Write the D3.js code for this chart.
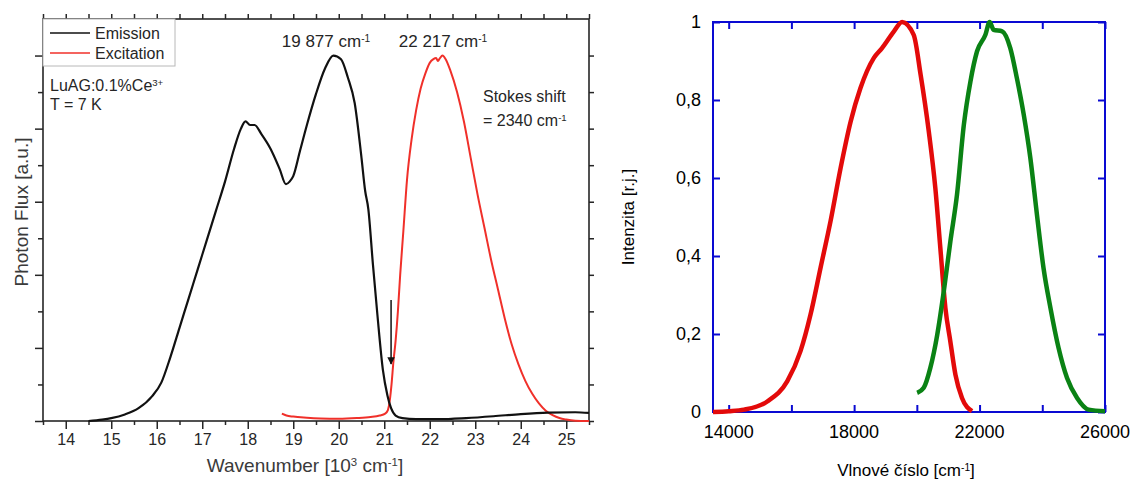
<!DOCTYPE html>
<html>
<head>
<meta charset="utf-8">
<script src="https://cdn.jsdelivr.net/npm/d3@7"></script>
<style>
    body { margin: 0; background: #ffffff; }
    svg { display: block; }
    text { font-family: 'Liberation Sans', Arial, sans-serif; }
</style>
</head>
<body>
<div id="chart"></div>
<script>
'use strict';

// left panel: LuAG:Ce emission / excitation (wavenumber in 10^3 cm-1)
var emissionX = [14.5, 14.8, 15.0, 15.3, 15.6, 15.9, 16.1, 16.3, 16.5, 16.7, 16.9, 17.1, 17.3, 17.5, 17.7,
    17.85, 17.95, 18.05, 18.15, 18.3, 18.5, 18.7, 18.84, 18.92, 19.0, 19.15, 19.3, 19.5, 19.7, 19.88,
    20.05, 20.2, 20.35, 20.5, 20.58, 20.65, 20.75, 20.85, 20.97, 21.07, 21.15, 21.25, 21.4, 21.7,
    22.2, 22.8, 23.4, 24.0, 24.6, 25.2, 25.5];
var emissionY = [0.0, 0.004, 0.008, 0.018, 0.035, 0.068, 0.105, 0.175, 0.255, 0.335, 0.415, 0.495, 0.575, 0.655, 0.745,
    0.80, 0.82, 0.81, 0.81, 0.785, 0.745, 0.69, 0.648, 0.655, 0.67, 0.74, 0.81, 0.895, 0.965, 1.0,
    0.99, 0.94, 0.87, 0.72, 0.63, 0.58, 0.43, 0.29, 0.14, 0.07, 0.035, 0.015, 0.008, 0.005,
    0.005, 0.008, 0.013, 0.019, 0.023, 0.024, 0.022];

var excitationX = [18.75, 18.85, 19.0, 19.3, 19.6, 20.0, 20.4, 20.7, 20.9, 21.02, 21.08, 21.12, 21.16, 21.2,
    21.25, 21.3, 21.35, 21.42, 21.5, 21.6, 21.7, 21.8, 21.9, 22.0, 22.08, 22.14, 22.18, 22.22, 22.28,
    22.35, 22.45, 22.6, 22.75, 22.9, 23.05, 23.2, 23.35, 23.5, 23.65, 23.8, 23.95, 24.1, 24.25, 24.4,
    24.55, 24.7, 24.85, 25.0, 25.2, 25.5];
var excitationY = [0.02, 0.015, 0.012, 0.009, 0.007, 0.006, 0.008, 0.011, 0.015, 0.02, 0.03, 0.055, 0.1, 0.16,
    0.22, 0.3, 0.4, 0.52, 0.66, 0.77, 0.85, 0.91, 0.95, 0.98, 0.99, 0.993, 0.985, 0.992, 1.0,
    0.99, 0.96, 0.9, 0.82, 0.72, 0.62, 0.53, 0.44, 0.36, 0.28, 0.21, 0.155, 0.11, 0.075, 0.048,
    0.028, 0.016, 0.008, 0.004, 0.001, 0.0];

var leftTickLabels = ['14', '15', '16', '17', '18', '19', '20', '21', '22', '23', '24', '25'];

// right panel: normalised spectra (wavenumber in cm-1)
var redX = [13500, 14000, 14490, 15230, 15870, 16290, 16610, 16930, 17250, 17570, 17890, 18200, 18630,
    18890, 19270, 19530, 19900, 20120, 20380, 20590, 20750, 20910, 21070, 21230, 21440, 21760];
var redY = [0.0, 0.002, 0.006, 0.027, 0.079, 0.156, 0.25, 0.37, 0.49, 0.626, 0.745, 0.83, 0.908,
    0.933, 0.976, 1.0, 0.967, 0.865, 0.72, 0.574, 0.42, 0.267, 0.18, 0.096, 0.036, 0.002];

var greenX = [20010, 20220, 20430, 20650, 20860, 21070, 21280, 21500, 21710, 21920, 22190, 22320, 22450,
    22720, 22980, 23190, 23410, 23620, 23830, 24040, 24260, 24520, 24790, 25110, 25480, 26000];
var greenY = [0.049, 0.062, 0.113, 0.198, 0.31, 0.438, 0.557, 0.737, 0.848, 0.925, 0.968, 1.0, 0.98,
    0.976, 0.933, 0.856, 0.762, 0.651, 0.506, 0.369, 0.267, 0.164, 0.087, 0.036, 0.006, 0.002];

var rightXTicks = [14000, 16000, 18000, 20000, 22000, 24000, 26000];
var rightXLabels = ['14000', '18000', '22000', '26000'];
var rightYTicks = [0, 0.2, 0.4, 0.6, 0.8, 1];
var rightYLabels = ['0', '0,2', '0,4', '0,6', '0,8', '1'];

var svg = d3.select('#chart').append('svg')
    .attr('width', 1134)
    .attr('height', 481);

function zip(xs, ys) {
    return xs.map(function(x, i) { return [x, ys[i]]; });
}

function addSup(textSel, base, sup) {
    textSel.append('tspan').text(base);
    textSel.append('tspan')
        .attr('baseline-shift', 'super')
        .attr('font-size', '0.6em')
        .text(sup);
}

function styleAxis(g, color, width) {
    g.selectAll('.domain').remove();
    g.selectAll('line').attr('stroke', color).attr('stroke-width', width);
}

/* ---------- left panel ---------- */
function drawLeft() {
    var ink = '#262626';
    var x = d3.scaleLinear().domain([13.5, 25.5]).range([43, 589]);
    var y = d3.scaleLinear().domain([0, 1.1]).range([421, 19]);
    var g = svg.append('g').attr('id', 'left-panel');

    var majorX = leftTickLabels.map(Number);
    var minorX = d3.range(13.5, 25.6, 1);
    var yMajor = d3.range(0, 11, 2).map(function(d) { return d / 10; });
    var yMinor = d3.range(1, 11, 2).map(function(d) { return d / 10; });
    var yAll = d3.range(0, 11).map(function(d) { return d / 10; });

    // bottom axis: long integer ticks with labels, short half ticks
    g.append('g')
        .attr('transform', 'translate(0,' + y(0) + ')')
        .call(d3.axisBottom(x).tickValues(majorX).tickSize(8).tickSizeOuter(0).tickPadding(5)
            .tickFormat(function(d, i) { return leftTickLabels[i]; }))
        .call(styleAxis, ink, 1.5)
        .selectAll('text')
            .attr('font-size', '16px')
            .attr('fill', ink);
    g.append('g')
        .attr('transform', 'translate(0,' + y(0) + ')')
        .call(d3.axisBottom(x).tickValues(minorX).tickSize(4).tickSizeOuter(0).tickFormat(''))
        .call(styleAxis, ink, 1.5);

    // top axis
    g.append('g')
        .attr('transform', 'translate(0,' + y(1.1) + ')')
        .call(d3.axisTop(x).tickValues(majorX.concat(minorX)).tickSize(5).tickSizeOuter(0).tickFormat(''))
        .call(styleAxis, ink, 1.5);

    // left axis: alternate long / short
    g.append('g')
        .attr('transform', 'translate(' + x(13.5) + ',0)')
        .call(d3.axisLeft(y).tickValues(yMajor).tickSize(8).tickSizeOuter(0).tickFormat(''))
        .call(styleAxis, ink, 1.5);
    g.append('g')
        .attr('transform', 'translate(' + x(13.5) + ',0)')
        .call(d3.axisLeft(y).tickValues(yMinor).tickSize(5).tickSizeOuter(0).tickFormat(''))
        .call(styleAxis, ink, 1.5);

    // right axis
    g.append('g')
        .attr('transform', 'translate(' + x(25.5) + ',0)')
        .call(d3.axisRight(y).tickValues(yAll).tickSize(5).tickSizeOuter(0).tickFormat(''))
        .call(styleAxis, ink, 1.5);

    g.append('rect')
        .attr('x', x(13.5))
        .attr('y', y(1.1))
        .attr('width', x(25.5) - x(13.5))
        .attr('height', y(0) - y(1.1))
        .attr('fill', 'none')
        .attr('stroke', ink)
        .attr('stroke-width', 1.6);

    var line = d3.line()
        .x(function(d) { return x(d[0]); })
        .y(function(d) { return y(d[1]); });

    g.append('path')
        .datum(zip(excitationX, excitationY))
        .attr('d', line.curve(d3.curveMonotoneX))
        .attr('fill', 'none')
        .attr('stroke', '#f0302a')
        .attr('stroke-width', 2);

    g.append('path')
        .datum(zip(emissionX, emissionY))
        .attr('d', line.curve(d3.curveMonotoneX))
        .attr('fill', 'none')
        .attr('stroke', '#111111')
        .attr('stroke-width', 2.2);

    // arrow at the crossing
    var defs = svg.append('defs');
    defs.append('marker')
            .attr('id', 'arrowHead')
            .attr('viewBox', '0 0 10 10')
            .attr('refX', 9)
            .attr('refY', 5)
            .attr('markerWidth', 5)
            .attr('markerHeight', 6)
            .attr('markerUnits', 'strokeWidth')
            .attr('orient', 'auto')
        .append('path')
            .attr('d', 'M0,0 L10,5 L0,10 z')
            .attr('fill', '#111');

    g.append('line')
        .attr('x1', x(21.15)).attr('y1', 300)
        .attr('x2', x(21.15)).attr('y2', 364)
        .attr('stroke', '#111')
        .attr('stroke-width', 1.5)
        .attr('marker-end', 'url(#arrowHead)');

    // legend
    var legend = g.append('g').attr('id', 'legend');
    legend.append('rect')
        .attr('x', 43).attr('y', 19)
        .attr('width', 132).attr('height', 47)
        .attr('fill', '#ffffff')
        .attr('stroke', '#b8b8b8')
        .attr('stroke-width', 1);
    [['Emission', '#111111', 33], ['Excitation', '#f0302a', 53]].forEach(function(item) {
        legend.append('line')
            .attr('x1', 50).attr('x2', 90)
            .attr('y1', item[2]).attr('y2', item[2])
            .attr('stroke', item[1])
            .attr('stroke-width', 1.5);
        legend.append('text')
            .attr('x', 95).attr('y', item[2] + 6)
            .attr('font-size', '16px')
            .attr('fill', ink)
            .text(item[0]);
    });

    var t1 = g.append('text').attr('x', 50).attr('y', 91).attr('font-size', '16px').attr('fill', ink);
    addSup(t1, 'LuAG:0.1%Ce', '3+');
    g.append('text').attr('x', 50).attr('y', 110).attr('font-size', '16px').attr('fill', ink).text('T = 7 K');

    var p1 = g.append('text').attr('x', 326).attr('y', 47).attr('text-anchor', 'middle')
        .attr('font-size', '17px').attr('fill', ink);
    addSup(p1, '19 877 cm', '-1');
    var p2 = g.append('text').attr('x', 443).attr('y', 47).attr('text-anchor', 'middle')
        .attr('font-size', '17px').attr('fill', ink);
    addSup(p2, '22 217 cm', '-1');

    g.append('text').attr('x', 483).attr('y', 102).attr('font-size', '16px').attr('fill', ink).text('Stokes shift');
    var s2 = g.append('text').attr('x', 483).attr('y', 126).attr('font-size', '16px').attr('fill', ink);
    addSup(s2, '= 2340 cm', '-1');

    g.append('text')
        .attr('transform', 'translate(28,212) rotate(-90)')
        .attr('text-anchor', 'middle')
        .attr('font-size', '19px')
        .attr('fill', '#3a3a3a')
        .text('Photon Flux [a.u.]');

    var xl = g.append('text')
        .attr('x', 305).attr('y', 472)
        .attr('text-anchor', 'middle')
        .attr('font-size', '19px')
        .attr('fill', '#3a3a3a');
    addSup(xl, 'Wavenumber [10', '3');
    xl.append('tspan').text(' cm');
    xl.append('tspan').attr('baseline-shift', 'super').attr('font-size', '0.6em').text('-1');
    xl.append('tspan').text(']');
}

/* ---------- right panel ---------- */
function drawRight() {
    var blue = '#0a0ad2';
    var x = d3.scaleLinear().domain([13500, 26000]).range([713, 1105]);
    var y = d3.scaleLinear().domain([0, 1]).range([412, 22]);
    var g = svg.append('g').attr('id', 'right-panel');

    g.append('rect')
        .attr('x', x(13500))
        .attr('y', y(1))
        .attr('width', x(26000) - x(13500))
        .attr('height', y(0) - y(1))
        .attr('fill', 'none')
        .attr('stroke', blue)
        .attr('stroke-width', 2);

    // inward ticks on all four sides
    g.append('g')
        .attr('transform', 'translate(0,' + y(0) + ')')
        .call(d3.axisBottom(x).tickValues(rightXTicks).tickSize(-7).tickSizeOuter(0).tickFormat(''))
        .call(styleAxis, blue, 2);
    g.append('g')
        .attr('transform', 'translate(0,' + y(1) + ')')
        .call(d3.axisTop(x).tickValues(rightXTicks).tickSize(-7).tickSizeOuter(0).tickFormat(''))
        .call(styleAxis, blue, 2);
    g.append('g')
        .attr('transform', 'translate(' + x(13500) + ',0)')
        .call(d3.axisLeft(y).tickValues(rightYTicks).tickSize(-7).tickSizeOuter(0)
            .tickPadding(12)
            .tickFormat(function(d, i) { return rightYLabels[i]; }))
        .call(styleAxis, blue, 2)
        .selectAll('text')
            .attr('font-size', '18px')
            .attr('fill', '#000');
    g.append('g')
        .attr('transform', 'translate(' + x(26000) + ',0)')
        .call(d3.axisRight(y).tickValues(rightYTicks).tickSize(-7).tickSizeOuter(0).tickFormat(''))
        .call(styleAxis, blue, 2);

    g.selectAll('.xlabel')
        .data(rightXLabels)
        .enter().append('text')
            .attr('class', 'xlabel')
            .attr('x', function(d) { return x(+d); })
            .attr('y', 438)
            .attr('text-anchor', 'middle')
            .attr('font-size', '18px')
            .attr('fill', '#000')
            .text(function(d) { return d; });

    var line = d3.line()
        .x(function(d) { return x(d[0]); })
        .y(function(d) { return y(d[1]); })
        .curve(d3.curveMonotoneX);

    g.append('path')
        .datum(zip(redX, redY))
        .attr('d', line)
        .attr('fill', 'none')
        .attr('stroke', '#e30a0a')
        .attr('stroke-width', 4.5)
        .attr('stroke-linejoin', 'round');

    g.append('path')
        .datum(zip(greenX, greenY))
        .attr('d', line)
        .attr('fill', 'none')
        .attr('stroke', '#0a8214')
        .attr('stroke-width', 4.5)
        .attr('stroke-linejoin', 'round');

    g.append('text')
        .attr('transform', 'translate(634,217) rotate(-90)')
        .attr('text-anchor', 'middle')
        .attr('font-size', '17px')
        .attr('fill', '#000')
        .text('Intenzita [r.j.]');

    var xl = g.append('text')
        .attr('x', 906).attr('y', 476)
        .attr('text-anchor', 'middle')
        .attr('font-size', '17px')
        .attr('fill', '#000');
    addSup(xl, 'Vlnové číslo [cm', '-1');
    xl.append('tspan').text(']');
}

drawLeft();
drawRight();
</script>
</body>
</html>
